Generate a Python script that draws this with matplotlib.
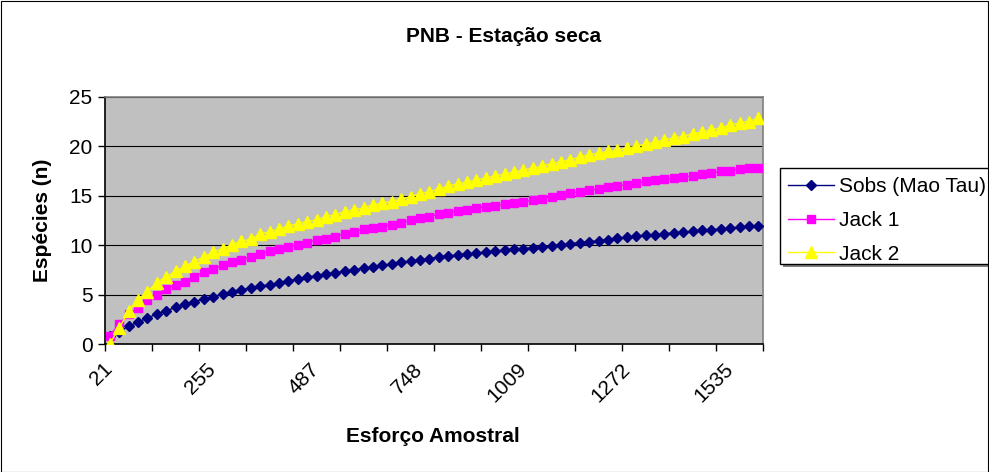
import matplotlib
matplotlib.use("Agg")
import matplotlib.pyplot as plt
from matplotlib.patches import Rectangle

plt.rcParams['font.family'] = ['Liberation Sans', 'DejaVu Sans']

# ---- data ----
tick_labels = ["21", "255", "487", "748", "1009", "1272", "1535"]
label_step = 11   # a label on every 11th sampling point
tick_step = 5     # a tick mark every 5 sampling points

sobs = [0.85, 1.2, 1.8, 2.2, 2.65, 3.0, 3.35, 3.7, 4.0, 4.3,
        4.55, 4.8, 5.05, 5.25, 5.5, 5.65, 5.85, 6.0, 6.2, 6.4,
        6.55, 6.75, 6.9, 7.05, 7.2, 7.35, 7.5, 7.65, 7.8, 7.95,
        8.1, 8.25, 8.4, 8.5, 8.65, 8.8, 8.9, 9.0, 9.1, 9.2,
        9.3, 9.4, 9.5, 9.6, 9.65, 9.75, 9.85, 9.95, 10.05, 10.15,
        10.25, 10.35, 10.45, 10.55, 10.7, 10.8, 10.9, 11.0, 11.05, 11.15,
        11.25, 11.3, 11.4, 11.5, 11.55, 11.65, 11.7, 11.8, 11.9, 11.95]

jack1 = [0.85, 2.0, 3.0, 3.6, 4.5, 5.0, 5.55, 6.0, 6.3, 6.8,
         7.3, 7.6, 7.95, 8.25, 8.5, 8.8, 9.1, 9.45, 9.6, 9.86,
         10.03, 10.27, 10.54, 10.64, 10.87, 11.14, 11.38, 11.62, 11.72, 11.88,
         12.06, 12.23, 12.56, 12.73, 12.9, 13.14, 13.3, 13.45, 13.6, 13.75,
         13.9, 14.0, 14.15, 14.3, 14.4, 14.55, 14.7, 14.9, 15.05, 15.25,
         15.43, 15.6, 15.67, 15.87, 16.0, 16.1, 16.28, 16.45, 16.55, 16.68,
         16.78, 16.89, 17.02, 17.19, 17.29, 17.46, 17.56, 17.7, 17.8, 17.86]

jack2 = [0.0, 1.6, 3.3, 4.5, 5.3, 6.2, 6.8, 7.35, 7.85, 8.35,
         8.8, 9.3, 9.65, 10.05, 10.4, 10.6, 11.1, 11.38, 11.62, 11.96,
         12.16, 12.39, 12.56, 12.9, 13.07, 13.4, 13.58, 13.75, 14.08, 14.25,
         14.42, 14.66, 14.92, 15.2, 15.43, 15.67, 16.0, 16.2, 16.4, 16.6,
         16.8, 17.0, 17.2, 17.4, 17.6, 17.8, 18.0, 18.25, 18.45, 18.65,
         18.91, 19.15, 19.32, 19.49, 19.59, 19.83, 19.99, 20.26, 20.4, 20.67,
         20.84, 21.0, 21.28, 21.45, 21.68, 21.85, 22.19, 22.36, 22.52, 22.87]

series_names = ["Sobs (Mao Tau)", "Jack 1", "Jack 2"]

FS = 15

# ---- figure ----
W, H = 989, 472
fig = plt.figure(figsize=(W / 100, H / 100), dpi=100)
fig.patch.set_facecolor('white')
fig.add_artist(Rectangle((0.5 / W, 0.5 / H), 1 - 1.5 / W, 1 - 1.5 / H,
                         transform=fig.transFigure, fill=False,
                         edgecolor='black', linewidth=0.8, zorder=10))


def fx(px):
    return px / W


def fy(py):
    return 1 - py / H


left, right, top, bottom = 105, 763, 97, 344
ax = fig.add_axes([fx(left), fy(bottom), (right - left) / W, (bottom - top) / H])
ax.set_facecolor('#C0C0C0')

n = len(sobs)
x = list(range(n))

ax.plot(x, sobs, color='#000080', marker='D', markersize=5.2, linewidth=1,
        label=series_names[0], zorder=3)
ax.plot(x, jack1, color='#FF00FF', marker='s', markersize=6.2, linewidth=1,
        label=series_names[1], zorder=4)
ax.plot(x, jack2, color='#FFFF00', marker='^', markersize=8, linewidth=1,
        label=series_names[2], zorder=5)

ax.set_xlim(-0.5, n - 0.5)
ax.set_ylim(0, 25)
ax.set_yticks([0, 5, 10, 15, 20, 25])
ax.yaxis.grid(True, color='black', linewidth=0.8)
ax.set_axisbelow(True)

major = [i * label_step for i in range(len(tick_labels))]
ax.set_xticks(major)
ax.set_xticklabels(tick_labels, rotation=45, ha='right', va='center',
                   rotation_mode='anchor', fontsize=FS)
ax.tick_params(axis='x', which='major', length=0, pad=16)
minor = [-0.5 + tick_step * k for k in range(n // tick_step + 1)]
ax.set_xticks(minor, minor=True)
ax.tick_params(axis='x', which='minor', length=5, width=1, direction='out')
ax.tick_params(axis='y', length=5, width=1, direction='out', labelsize=FS, pad=4)

for s in ['top', 'right']:
    ax.spines[s].set_color('#808080')
    ax.spines[s].set_linewidth(1.2)
for s in ['left', 'bottom']:
    ax.spines[s].set_color('black')
    ax.spines[s].set_linewidth(1.2)

fig.text(fx(504), fy(36), "PNB - Estação seca", ha='center', va='center',
         fontsize=FS, fontweight='bold')
fig.text(fx(433), fy(437), "Esforço Amostral", ha='center', va='center',
         fontsize=FS, fontweight='bold')
fig.text(fx(43), fy(220), "Espécies (n)", ha='center', va='center',
         rotation=90, fontsize=FS, fontweight='bold')

# legend frame with shadow (box runs past the right edge, as in the reference)
lx0, ly0, lx1, ly1 = 780, 168, 1000, 264
fig.add_artist(Rectangle((fx(lx0 + 3), fy(ly1 + 3)), (lx1 - lx0) / W, (ly1 - ly0) / H,
                         transform=fig.transFigure, facecolor='#808080',
                         edgecolor='none', zorder=6))
fig.add_artist(Rectangle((fx(lx0), fy(ly1)), (lx1 - lx0) / W, (ly1 - ly0) / H,
                         transform=fig.transFigure, facecolor='white',
                         edgecolor='black', linewidth=1, zorder=7))

leg = fig.legend(loc='upper left', bbox_to_anchor=(fx(788), fy(177.5)),
                 fontsize=FS, frameon=False,
                 handlelength=2.2, handletextpad=0.25, labelspacing=0.7,
                 borderpad=0, borderaxespad=0)
leg.set_zorder(8)

fig.savefig("out.png", dpi=100, facecolor='white')
